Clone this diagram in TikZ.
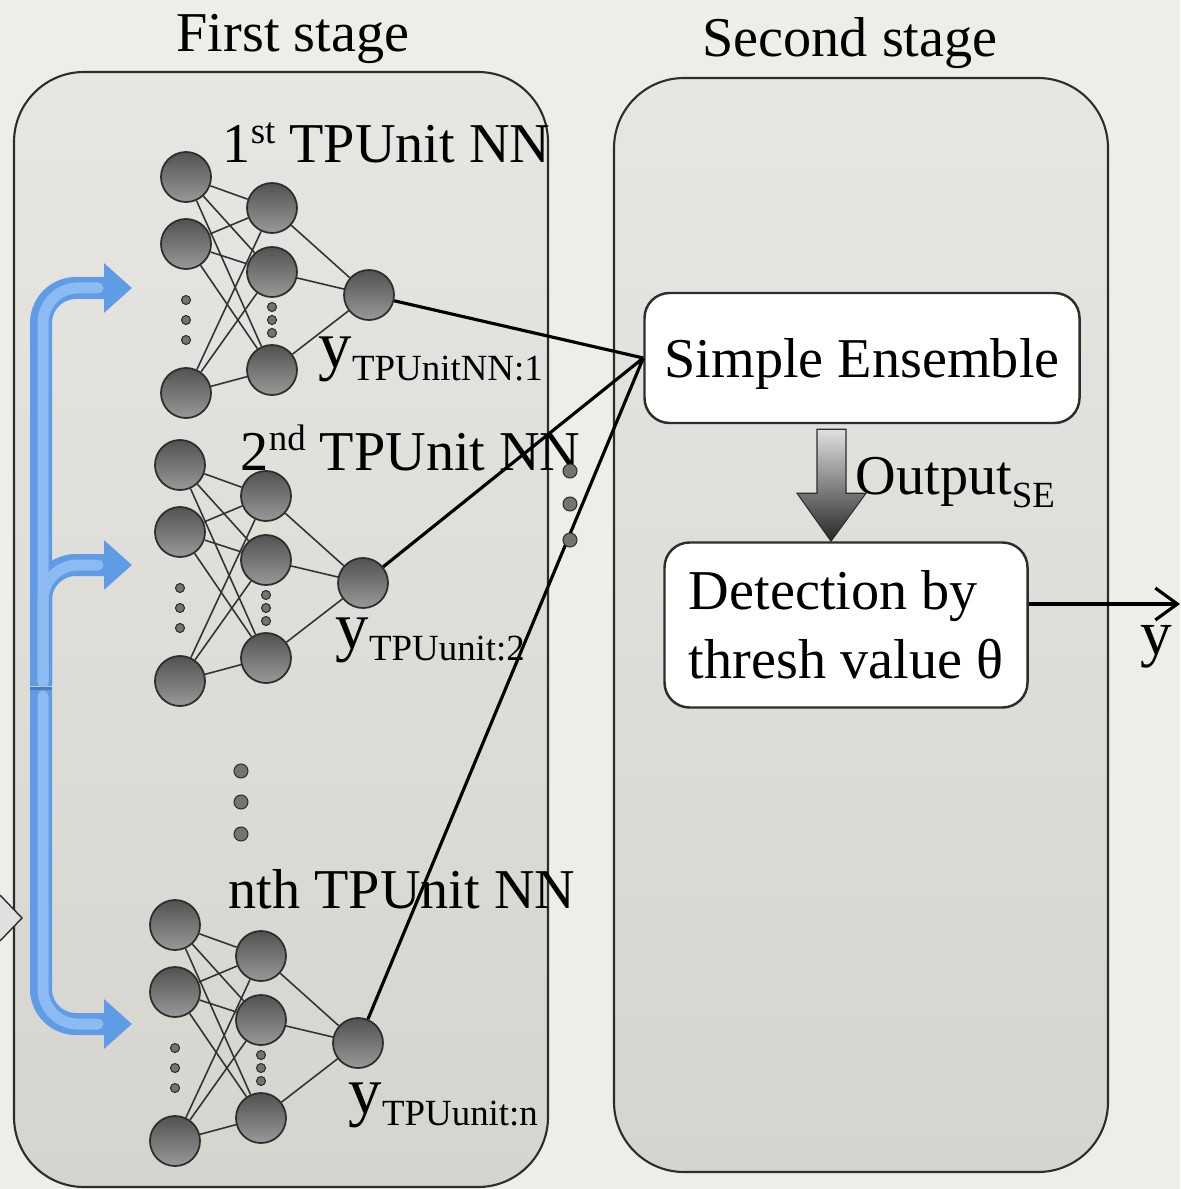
\documentclass[tikz,border=0pt]{standalone}
\usepackage{fontspec}
\setmainfont{Liberation Serif}
\usetikzlibrary{arrows.meta,calc}

\definecolor{paper}{RGB}{238,237,232}
\definecolor{panelhi}{RGB}{231,230,226}
\definecolor{panello}{RGB}{213,212,207}
\definecolor{rim}{RGB}{45,45,45}
\definecolor{pipe}{RGB}{96,155,230}
\definecolor{pipehi}{RGB}{140,187,242}

\tikzset{
    >={Straight Barb[length=2.2mm,width=3.2mm]}, % output arrow tip
    panel/.style={draw=rim, line width=0.6pt, rounded corners=7mm,
        top color=panelhi, bottom color=panello, inner sep=0pt},
    txt/.style={font=\fontsize{16}{19.5}\selectfont, inner sep=0pt},
    neuron/.style={circle, draw=rim, line width=0.5pt, minimum size=5mm,
        inner sep=0pt, top color=black!68, bottom color=black!40},
    dot/.style={circle, draw=rim, line width=0.3pt, fill=black!55,
        minimum size=0.9mm, inner sep=0pt},
    bigdot/.style={dot, minimum size=1.4mm},
    synapse/.style={draw=black!80, line width=0.45pt},
    link/.style={draw=black, line width=0.9pt},
    box/.style={draw=rim, line width=0.7pt, fill=white, rounded corners=2.5mm,
        font=\fontsize{16}{19.5}\selectfont, inner sep=0pt},
    feed/.style={draw=pipe, line width=2.2mm, rounded corners=3.5mm,
        -{Triangle[length=2.8mm,width=4.8mm]}},
    glint/.style={draw=pipehi, line width=1.1mm, rounded corners=3.5mm,
        line cap=round},
}

% raised / lowered small text
\newcommand\sufx[1]{\raisebox{5.5pt}{\fontsize{10.5}{12}\selectfont #1}}
\newcommand\lowr[1]{\raisebox{-3.5pt}{\fontsize{10.5}{12}\selectfont #1}}
\newcommand\ysub[1]{{\fontsize{19}{20}\selectfont y}\lowr{#1}}

% one small net: origin x, origin y, name prefix
\newcommand\tpnet[3]{%
    \begin{scope}[shift={(#1,#2)}]
        \foreach \yy [count=\i] in {0,67,216}
            \node[neuron] (#3i\i) at (0,\yy) {};
        \foreach \yy [count=\i] in {31,95,193}
            \node[neuron] (#3h\i) at (86,\yy) {};
        \node[neuron] (#3o) at (183,118) {};
        \foreach \yy [count=\i] in {123,143,163}
            \node[dot] (#3a\i) at (0,\yy) {};
        \foreach \yy [count=\i] in {130,143,156}
            \node[dot] (#3b\i) at (86,\yy) {};
        \foreach \i in {1,2,3}{
            \foreach \j in {1,2,3}
                \draw[synapse] (#3i\i) -- (#3h\j);
            \draw[synapse] (#3h\i) -- (#3o);
        }
    \end{scope}
}

\begin{document}
\begin{tikzpicture}[x=0.1mm, y=-0.1mm]
    \fill[paper] (0,0) rectangle (1180,1189);
    \useasboundingbox (0,0) rectangle (1180,1189);

    % the two stages
    \node[panel, minimum width=53.4mm, minimum height=111.5mm] (stage1) at (281,629.5) {};
    \node[panel, minimum width=49.4mm, minimum height=109.4mm] (stage2) at (861,625) {};
    \node[txt, anchor=base] (title1) at (293,52) {First stage};
    \node[txt, anchor=base] (title2) at (850,57) {Second stage};

    % incoming data
    \draw
        [draw=rim, fill=black!12, line width=0.4pt]
        (0,895) -- (22,918) -- (0,941)
    ;

    % blue feeds into the nets
    \coordinate (bus) at (41,686);
    \coordinate (busn) at (41,690);
    \coordinate (tip1) at (132,288);
    \coordinate (tip2) at (132,565);
    \coordinate (tipn) at (132,1024);
    \draw[feed] (bus) |- (tip1);
    \draw[feed] (bus) |- (tip2);
    \draw[feed] (busn) |- (tipn);
    \draw[glint] ($(bus)+(2,-4)$) |- ($(tip1)+(-34,0)$);
    \draw[glint] ($(bus)+(2,-4)$) |- ($(tip2)+(-34,0)$);
    \draw[glint] ($(busn)+(2,6)$) |- ($(tipn)+(-34,0)$);
    \draw
        [draw=pipe!80!black, line width=0.3mm]
        ($(bus)+(-11,2)$) -- ($(bus)+(11,2)$)
    ;

    % the nets
    \tpnet{186}{177}{n1}
    \tpnet{180}{465}{n2}
    \tpnet{175}{925}{nn}

    \foreach \yy [count=\i] in {771,802,834}
        \node[bigdot] (skip\i) at (241,\yy) {};

    \node[txt, anchor=base west] (n1name) at (222,163) {1\sufx{st} TPUnit NN};
    \node[txt, anchor=base west] (n2name) at (240,470) {2\sufx{nd} TPUnit NN};
    \node[txt, anchor=base west] (nnname) at (228,908) {nth TPUnit NN};
    \node[txt, anchor=base west] (n1y) at (318,368) {\ysub{TPUnitNN:1}};
    \node[txt, anchor=base west] (n2y) at (335,648) {\ysub{TPUunit:2}};
    \node[txt, anchor=base west] (nny) at (348,1113) {\ysub{TPUunit:n}};

    % second stage
    \node[box, minimum width=43.5mm, minimum height=13mm, text depth=0pt] (se) at (862,358) {Simple Ensemble};
    \node[box, minimum width=36.3mm, minimum height=16.5mm, align=left] (det) at (846,625)
        {Detection by\\thresh value θ};

    \draw
        [link]
        (n1o) -- (se.west)
        (n2o) -- (se.west)
        (nno) -- (se.west)
    ;
    \foreach \yy [count=\i] in {471,504,540}
        \node[bigdot] (more\i) at (570,\yy) {};

    % shaded drop arrow
    \coordinate (drop) at (831,0);
    \coordinate (dtop) at ($(drop |- se.south)+(0,5)$);
    \coordinate (dtip) at (drop |- det.north);
    \draw
        [draw=rim, line width=0.3pt, top color=black!12, bottom color=black!85]
        ($(dtop)+(-14,0)$) -- ($(dtop)+(15,0)$) -- ($(dtop)+(15,64)$)
        -- ($(dtop)+(35,64)$) -- (dtip) -- ($(dtop)+(-34,64)$)
        -- ($(dtop)+(-14,64)$) -- cycle
    ;
    \node[txt, anchor=base west] (outse) at (855,495) {Output\lowr{SE}};

    % final decision
    \coordinate (yend) at (1180,604);
    \draw
        [link, ->]
        (det.east |- yend) -- (yend)
    ;
    \node[txt, font=\fontsize{18}{20}\selectfont, anchor=base] (yout) at (1156,654) {y};
\end{tikzpicture}
\end{document}
